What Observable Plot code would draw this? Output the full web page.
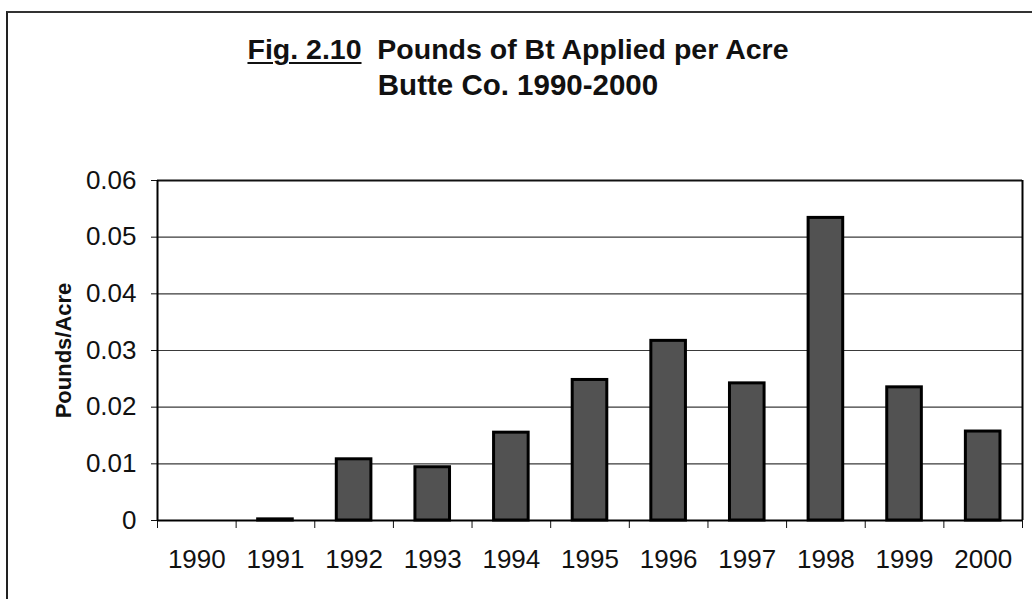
<!DOCTYPE html>
<html>
<head>
<meta charset="utf-8">
<script src="https://cdn.jsdelivr.net/npm/d3@7"></script>
<script src="https://cdn.jsdelivr.net/npm/@observablehq/plot@0.6"></script>
<style>
  html, body { margin: 0; padding: 0; background: #fff; }
  #page { position: relative; width: 1032px; height: 599px; overflow: hidden; font-family: "Liberation Sans", Arial, sans-serif; }
  #frame { position: absolute; left: 6px; top: 11px; width: 1100px; height: 700px; border-top: 2px solid #333; border-left: 2px solid #222; }
  #title { position: absolute; left: 0; width: 1036px; top: 31px; text-align: center; font-weight: bold; font-size: 28.5px; line-height: 36px; color: #111; }
  #title u { text-decoration-thickness: 2px; text-underline-offset: 3px; }
  #title .l2 { font-size: 29.5px; }
  #chart { position: absolute; left: 0; top: 130px; }
</style>
</head>
<body>
<div id="page">
  <div id="frame"></div>
  <div id="title"><u>Fig. 2.10</u>&nbsp; Pounds of Bt Applied per Acre<br><span class="l2">Butte Co. 1990-2000</span></div>
  <div id="chart"></div>
</div>
<script>
const years = [1990, 1991, 1992, 1993, 1994, 1995, 1996, 1997, 1998, 1999, 2000];
const poundsPerAcre = [0, 0.0002, 0.0108, 0.0094, 0.0155, 0.0248, 0.0317, 0.0242, 0.0534, 0.0235, 0.0157];
const yTicks = [0, 0.01, 0.02, 0.03, 0.04, 0.05, 0.06];
const xBoundaries = [1989.5, 1990.5, 1991.5, 1992.5, 1993.5, 1994.5, 1995.5, 1996.5, 1997.5, 1998.5, 1999.5, 2000.5];
const yLabel = "Pounds/Acre";

const data = years.map((y, i) => ({year: y, value: poundsPerAcre[i]}));
const halfBar = 0.22;

const chart = Plot.plot({
  width: 1032,
  height: 469,
  marginLeft: 157,
  marginRight: 10,
  marginTop: 50,
  marginBottom: 79,
  style: {fontFamily: "'Liberation Sans', Arial, sans-serif", fontSize: "21px", color: "#111", background: "transparent"},
  x: {type: "linear", domain: [1989.5, 2000.5]},
  y: {domain: [0, 0.06]},
  marks: [
    Plot.ruleY(yTicks.filter(d => d > 0 && d < 0.06), {stroke: "#3a3a3a", strokeWidth: 1.2}),
    Plot.ruleY([0.06], {stroke: "#111", strokeWidth: 2}),
    Plot.rectY(data.filter(d => d.value > 0), {
      x1: d => d.year - halfBar,
      x2: d => d.year + halfBar,
      y1: 0,
      y2: "value",
      fill: "#525252",
      stroke: "#000",
      strokeWidth: 3
    }),
    Plot.axisY({
      ticks: yTicks,
      tickFormat: d => d === 0 ? "0" : d.toFixed(2),
      tickSize: 6,
      tickPadding: 15,
      fontSize: 26,
      label: null
    }),
    Plot.axisY({
      ticks: [],
      tickSize: 0,
      label: yLabel,
      labelAnchor: "center",
      labelArrow: "none",
      labelOffset: 102,
      fontSize: 22,
      fontWeight: "bold"
    }),
    Plot.axisX({ticks: xBoundaries, tickFormat: () => "", tickSize: 8, label: null}),
    Plot.axisX({ticks: years, tickFormat: d => String(d), tickSize: 0, tickPadding: 29, fontSize: 26, label: null}),
    Plot.ruleX([1989.5], {stroke: "#000", strokeWidth: 2}),
    Plot.ruleX([2000.5], {stroke: "#000", strokeWidth: 2}),
    Plot.ruleY([0], {stroke: "#000", strokeWidth: 2})
  ]
});
document.getElementById("chart").appendChild(chart);
</script>
</body>
</html>
